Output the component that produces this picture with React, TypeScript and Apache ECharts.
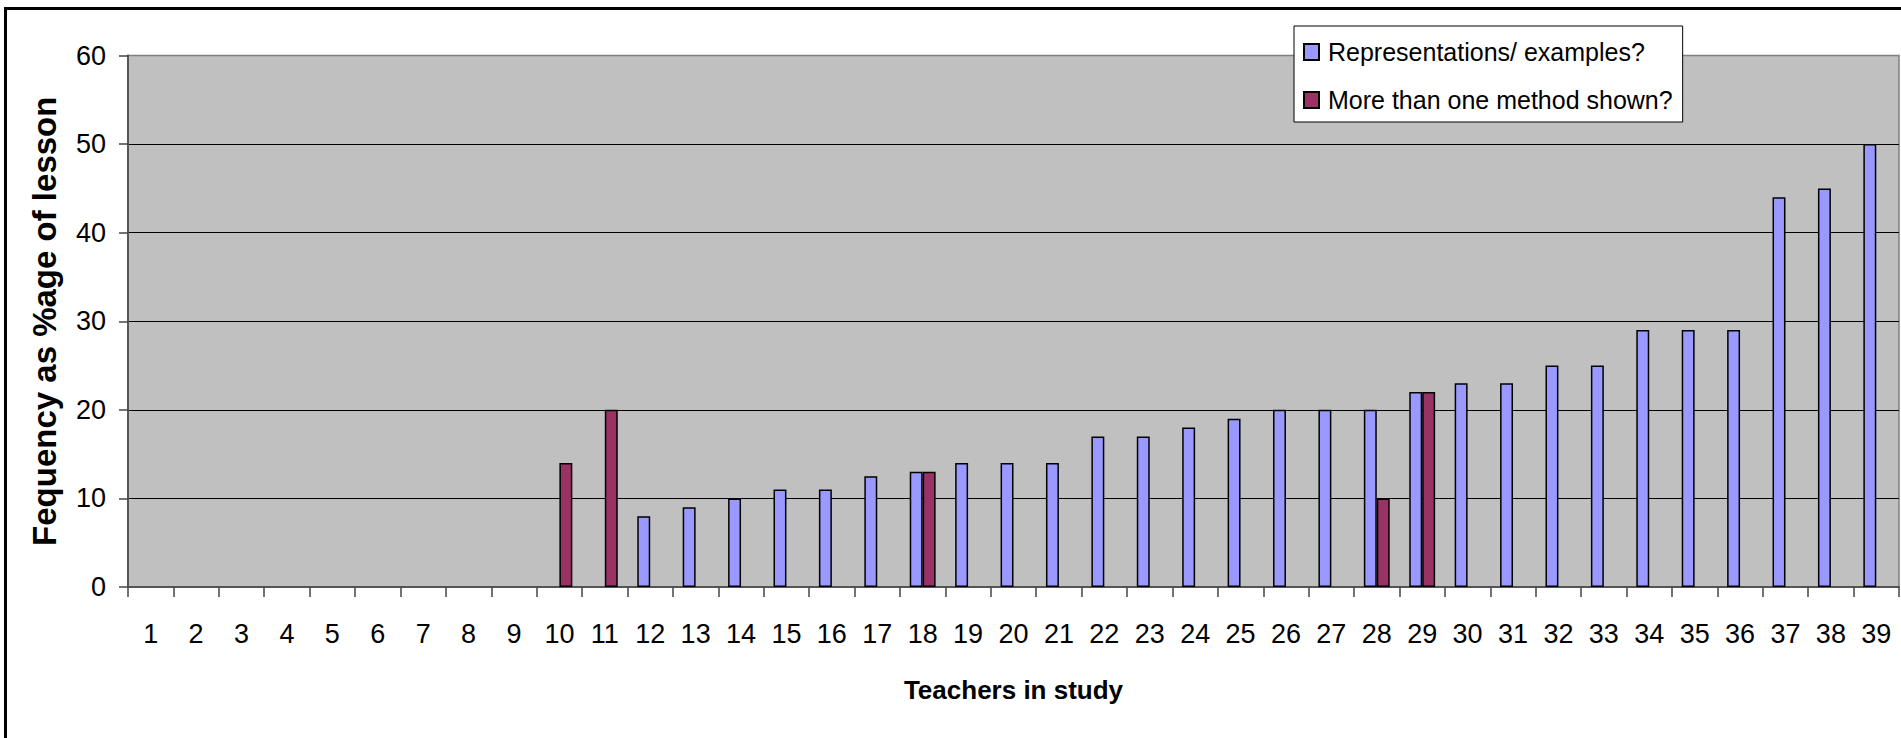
import React, { useEffect, useRef } from 'react';
import * as echarts from 'echarts';

// Teacher numbers along the category axis
const teachers = [
  '1', '2', '3', '4', '5', '6', '7', '8', '9', '10',
  '11', '12', '13', '14', '15', '16', '17', '18', '19', '20',
  '21', '22', '23', '24', '25', '26', '27', '28', '29', '30',
  '31', '32', '33', '34', '35', '36', '37', '38', '39',
];

// Frequency (% of lesson) per teacher
const representations = [
  0, 0, 0, 0, 0, 0, 0, 0, 0, 0,
  0, 8, 9, 10, 11, 11, 12.5, 13, 14, 14,
  14, 17, 17, 18, 19, 20, 20, 20, 22, 23,
  23, 25, 25, 29, 29, 29, 44, 45, 50,
];

const multipleMethods = [
  0, 0, 0, 0, 0, 0, 0, 0, 0, 14,
  20, 0, 0, 0, 0, 0, 0, 13, 0, 0,
  0, 0, 0, 0, 0, 0, 0, 10, 22, 0,
  0, 0, 0, 0, 0, 0, 0, 0, 0,
];

const seriesNames = ['Representations/ examples?', 'More than one method shown?'];
const seriesColors = ['#9999FF', '#993366'];

const FONT = '"Liberation Sans", Arial, Helvetica, sans-serif';

// Zero entries are left empty so no bar is drawn for them
const toBarData = (values: number[]) => values.map((v) => (v === 0 ? null : v));

export default function App() {
  const ref = useRef<HTMLDivElement>(null);

  useEffect(() => {
    document.body.style.margin = '0';
    const chart = echarts.init(ref.current!, null, { renderer: 'svg' });
    chart.setOption({
      animation: false,
      backgroundColor: '#ffffff',
      textStyle: { fontFamily: FONT },
      graphic: [
        {
          type: 'rect',
          silent: true,
          shape: { x: 5.5, y: 8.5, width: 3000, height: 3000 },
          style: { fill: 'none', stroke: '#000000', lineWidth: 3 },
        },
      ],
      legend: {
        orient: 'vertical',
        left: 1294,
        top: 26,
        padding: [11, 10, 7, 9],
        itemGap: 18,
        itemWidth: 15,
        itemHeight: 16,
        icon: 'rect',
        backgroundColor: '#ffffff',
        borderColor: '#000000',
        borderWidth: 1,
        textStyle: {
          fontFamily: FONT,
          fontSize: 25,
          color: '#000000',
          lineHeight: 30,
          padding: [0, 0, 0, 4],
        },
        data: seriesNames,
      },
      grid: {
        left: 128,
        top: 55.5,
        right: 2,
        bottom: 151,
        show: true,
        backgroundColor: '#C0C0C0',
        borderColor: '#808080',
        borderWidth: 1.5,
        containLabel: false,
      },
      xAxis: {
        type: 'category',
        data: teachers,
        axisLine: { show: true, lineStyle: { color: '#555555', width: 2 } },
        axisTick: { show: true, length: 10, alignWithLabel: false, lineStyle: { color: '#444444', width: 1.5 } },
        axisLabel: { interval: 0, fontSize: 27, color: '#000000', margin: 33, fontFamily: FONT },
        splitLine: { show: false },
        name: 'Teachers in study',
        nameLocation: 'middle',
        nameGap: 90,
        nameTextStyle: { fontSize: 26, fontWeight: 'bold', color: '#000000', fontFamily: FONT },
      },
      yAxis: {
        type: 'value',
        min: 0,
        max: 60,
        interval: 10,
        axisLine: { show: true, lineStyle: { color: '#555555', width: 2 } },
        axisTick: { show: true, length: 9, lineStyle: { color: '#444444', width: 1.5 } },
        axisLabel: { fontSize: 27, color: '#000000', margin: 22, fontFamily: FONT },
        splitLine: { show: true, showMaxLine: false, lineStyle: { color: '#000000', width: 1 } },
        name: 'Fequency as %age of lesson',
        nameLocation: 'middle',
        nameGap: 67,
        nameTextStyle: { fontSize: 33, fontWeight: 'bold', color: '#000000', fontFamily: FONT },
      },
      series: [
        {
          name: seriesNames[0],
          type: 'bar',
          data: toBarData(representations),
          barGap: '0%',
          barCategoryGap: '43%',
          itemStyle: { color: seriesColors[0], borderColor: '#000000', borderWidth: 1.5 },
        },
        {
          name: seriesNames[1],
          type: 'bar',
          data: toBarData(multipleMethods),
          barGap: '0%',
          barCategoryGap: '43%',
          itemStyle: { color: seriesColors[1], borderColor: '#000000', borderWidth: 1.5 },
        },
      ],
    });
    return () => chart.dispose();
  }, []);

  return <div ref={ref} style={{ width: 1901, height: 738 }} />;
}
